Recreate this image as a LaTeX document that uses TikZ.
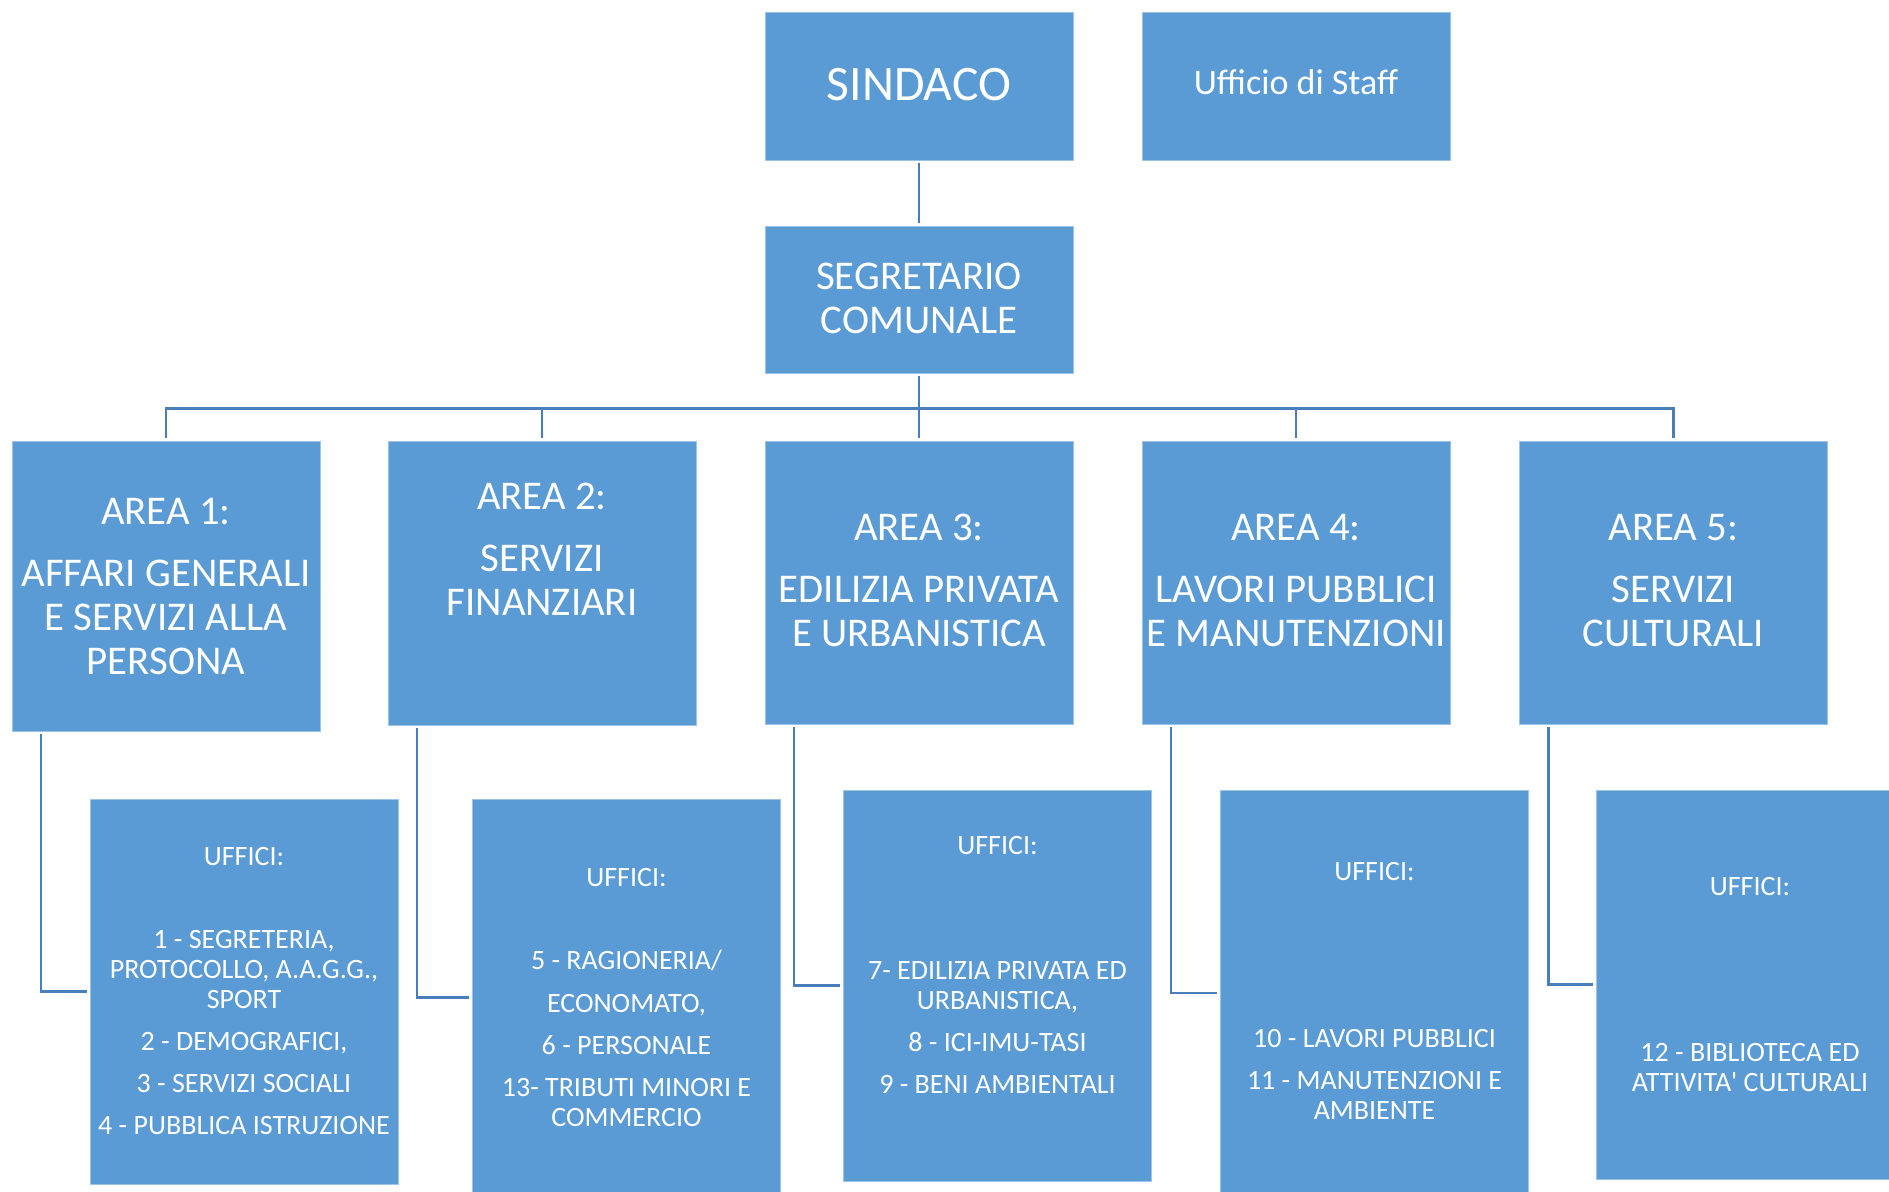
\documentclass[tikz,border=0pt]{standalone}
\usepackage{fontspec}
\setmainfont{Carlito}
\usetikzlibrary{positioning, calc}
\definecolor{boxblue}{HTML}{5B9BD5}
\definecolor{boxedge}{HTML}{9DC3E6}
\definecolor{linkblue}{HTML}{4A7EBB}
\tikzset{
  orgbox/.style={rectangle, fill=boxblue, draw=boxedge, line width=0.4pt, inner sep=0pt, minimum width=154pt},
  orgtxt/.style={text=white, align=center, inner sep=0pt, anchor=north},
  areafont/.style={font=\fontsize{20.4}{22}\selectfont},
  uffont/.style={font=\fontsize{14}{15}\selectfont},
  link/.style={draw=linkblue, line width=1.3pt}
}

\begin{document}
\begin{tikzpicture}[x=0.5pt, y=-0.5pt]
\useasboundingbox (0,0) rectangle (1889,1192);
\node[orgbox, minimum height=74pt] (sindaco) at (919,86) {};
\node[orgbox, minimum height=74pt] (staff) at (1296,86) {};
\node[orgbox, minimum height=73.5pt] (segr) at (919,299.5) {};
\foreach \n / \x / \y / \h in {a1/166/586/145, a2/542/583/142, a3/919/582.5/141.5,
  a4/1296/582.5/141.5, a5/1673.5/582.5/141.5} {
\node[orgbox, minimum height=\h pt] (\n) at (\x,\y) {};
}
\foreach \n / \x / \y / \h in {u1/244/991.5/192.5, u2/626.5/997.5/198.5, u3/997.5/985.5/195.5,
  u4/1374.5/993/203, u5/1750/984.5/194.5} {
\node[orgbox, minimum height=\h pt] (\n) at (\x,\y) {};
}

\node[orgtxt, font=\fontsize{24.8}{26}\selectfont] (sindacotxt) at ($(sindaco.north)+(0,56.5)$) {SINDACO};
\node[orgtxt, anchor=base, font=\fontsize{18}{20}\selectfont] (stafftxt) at ($(staff.north)+(0,83)$) {Ufficio di Staff};
\node[orgtxt, areafont] (segrtxt) at ($(segr.north)+(0,37)$) {SEGRETARIO\\COMUNALE};

\node[orgtxt, areafont] (a1txt) at ($(a1.north)+(0,57)$) {AREA 1:\\[9pt]AFFARI GENERALI\\E SERVIZI ALLA\\PERSONA};
\node[orgtxt, areafont] (a2txt) at ($(a2.north)+(0,42)$) {AREA 2:\\[9pt]SERVIZI\\FINANZIARI};
\node[orgtxt, areafont] (a3txt) at ($(a3.north)+(0,73)$) {AREA 3:\\[9pt]EDILIZIA PRIVATA\\E URBANISTICA};
\node[orgtxt, areafont] (a4txt) at ($(a4.north)+(0,73)$) {AREA 4:\\[9pt]LAVORI PUBBLICI\\E MANUTENZIONI};
\node[orgtxt, areafont] (a5txt) at ($(a5.north)+(0,73)$) {AREA 5:\\[9pt]SERVIZI\\CULTURALI};

\node[orgtxt, uffont] (u1txt) at ($(u1.north)+(0,48)$) {UFFICI:\\[26.5pt]1 - SEGRETERIA,\\PROTOCOLLO, A.A.G.G.,\\SPORT\\[6pt]2 - DEMOGRAFICI,\\[6pt]3 - SERVIZI SOCIALI\\[6pt]4 - PUBBLICA ISTRUZIONE};
\node[orgtxt, uffont] (u2txt) at ($(u2.north)+(0,69)$) {UFFICI:\\[26.5pt]5 - RAGIONERIA/\\[6.5pt]ECONOMATO,\\[6pt]6 - PERSONALE\\[6pt]13- TRIBUTI MINORI E\\COMMERCIO};
\node[orgtxt, uffont] (u3txt) at ($(u3.north)+(0,46)$) {UFFICI:\\[47.5pt]7- EDILIZIA PRIVATA ED\\URBANISTICA,\\[6pt]8 - ICI-IMU-TASI\\[6pt]9 - BENI AMBIENTALI};
\node[orgtxt, uffont] (u4txt) at ($(u4.north)+(0,72)$) {UFFICI:\\[68.5pt]10 - LAVORI PUBBLICI\\[6pt]11 - MANUTENZIONI E\\AMBIENTE};
\node[orgtxt, uffont] (u5txt) at ($(u5.north)+(0,87)$) {UFFICI:\\[68pt]12 - BIBLIOTECA ED\\ATTIVITA\textquotesingle{} CULTURALI};

\draw[link, shorten <=1.5pt, shorten >=1.5pt] (sindaco) -- (segr);
\foreach \n in {a1,a2,a3,a4,a5} {
\draw[link, shorten <=1.5pt, shorten >=1.5pt] (segr.south) -- ++(0,35) -| (\n.north);
}
\foreach \n / \u in {a1/u1, a2/u2, a3/u3, a4/u4, a5/u5} {
\draw[link, shorten <=1.5pt, shorten >=1.5pt] ($(\n.south west)+(29.5,0)$) |- (\u.west);
}
\end{tikzpicture}
\end{document}
